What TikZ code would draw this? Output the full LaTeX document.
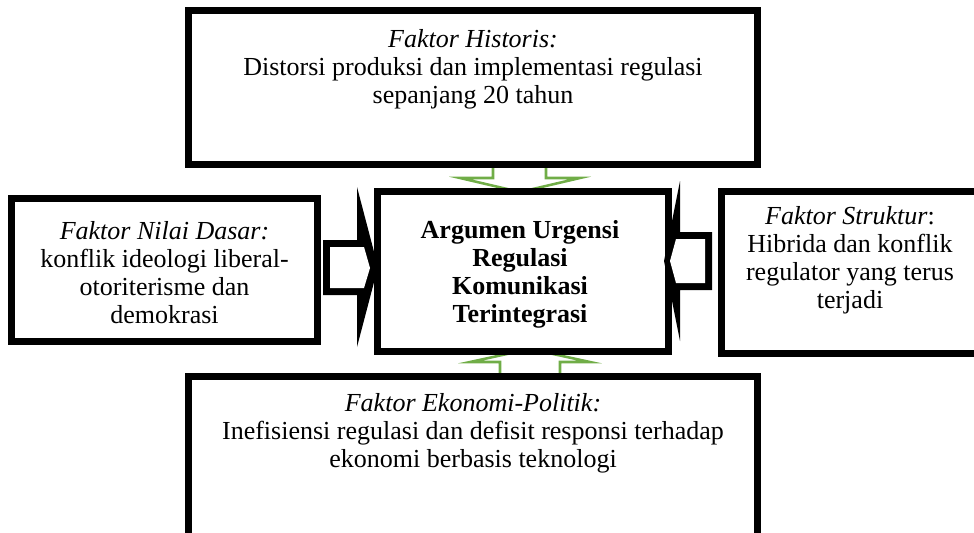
\documentclass[tikz,border=0pt]{standalone}
\usepackage{fontspec}
\setmainfont{Liberation Serif}
\usetikzlibrary{calc}
\definecolor{argreen}{HTML}{70AD47}
\begin{document}
\begin{tikzpicture}[x=0.75pt,y=-0.75pt,
  box/.style={draw=black,line width=5.25pt,fill=white,inner sep=0pt,rectangle},
  txt/.style={align=center,inner sep=0pt,font=\fontsize{19.5pt}{21pt}\selectfont},
  garrow/.style={draw=argreen,line width=1.9pt,fill=white,line join=miter},
  barrow/.style={fill=black}]
\useasboundingbox (0,0) rectangle (974,532);
% green block arrows (under the boxes)
\draw[garrow] (493,166) -- (546,166) -- (546,178) -- (580,178) -- (520,192) -- (460,178) -- (493,178) -- cycle;
\draw[garrow] (500,380) -- (560,380) -- (560,362) -- (590,362) -- (530,349) -- (470,362) -- (500,362) -- cycle;
% boxes
\node[box,minimum width=426.75pt,minimum height=115.5pt] (hist) at (473,87.5) {};
\node[box,minimum width=218.25pt,minimum height=120pt] (main) at (523,271.5) {};
\node[box,minimum width=229.5pt,minimum height=107.25pt] (nilai) at (164.5,270) {};
\node[box,minimum width=192.75pt,minimum height=121.5pt] (strk) at (850,272.5) {};
\node[box,minimum width=426.75pt,minimum height=120pt] (ekon) at (473,456.5) {};
% black block arrows
\fill[barrow] (323,240) -- (357,240) -- (357,187) -- (378,267) -- (357,347) -- (357,295) -- (323,295) -- cycle;
\fill[white] (330,247) -- (364,247) -- (370,268) -- (364,288) -- (330,288) -- cycle;
\fill[barrow] (712,232) -- (680,232) -- (680,181) -- (664,261) -- (680,341) -- (680,290) -- (712,290) -- cycle;
\fill[white] (705,239) -- (676,239) -- (670,261) -- (676,283) -- (705,283) -- cycle;
% texts
\node[txt,anchor=north] (histt) at ($(hist.north)+(0,22)$) {\textit{Faktor Historis:}\\Distorsi produksi dan implementasi regulasi\\sepanjang 20 tahun};
\node[txt,anchor=center,font=\fontsize{19.5pt}{21pt}\selectfont\bfseries] (maint) at ($(main.center)+(-3,3)$) {Argumen Urgensi\\Regulasi\\Komunikasi\\Terintegrasi};
\node[txt,anchor=center] (nilait) at ($(nilai.center)+(0,3)$) {\textit{Faktor Nilai Dasar:}\\konflik ideologi liberal-\\otoriterisme dan\\demokrasi};
\node[txt,anchor=north] (strkt) at ($(strk.north)+(0,18)$) {\textit{Faktor Struktur}:\\Hibrida dan konflik\\regulator yang terus\\terjadi};
\node[txt,anchor=north] (ekont) at ($(ekon.north)+(0,20)$) {\textit{Faktor Ekonomi-Politik:}\\Inefisiensi regulasi dan defisit responsi terhadap\\ekonomi berbasis teknologi};
\end{tikzpicture}
\end{document}
